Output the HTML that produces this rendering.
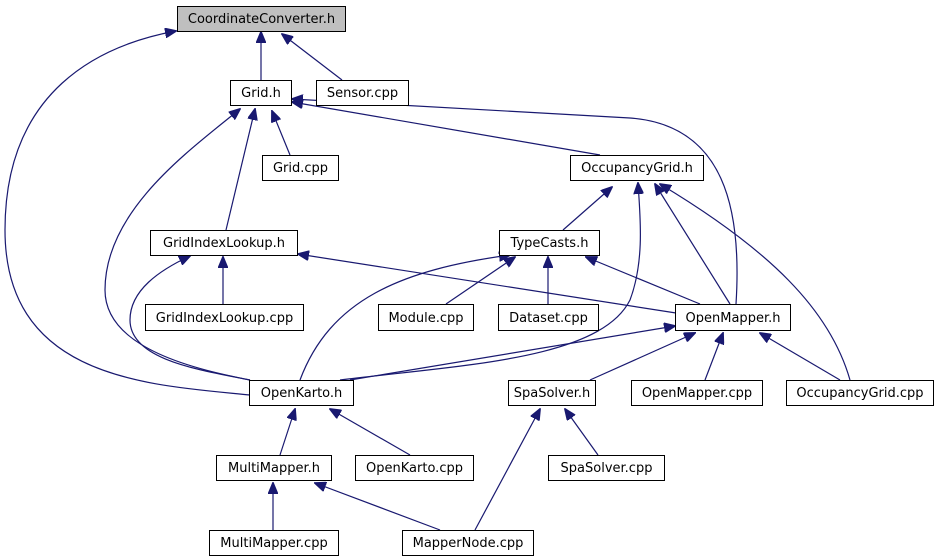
<!DOCTYPE html>
<html><head><meta charset="utf-8"><style>
html,body{margin:0;padding:0;background:#fff;}
svg{display:block;}
text{font-family:"DejaVu Sans","Liberation Sans",sans-serif;font-size:13px;fill:#000;}
</style></head><body>
<svg width="939" height="560" viewBox="0 0 939 560" xmlns="http://www.w3.org/2000/svg">
<defs>
<marker id="a" markerUnits="userSpaceOnUse" markerWidth="12" markerHeight="10" refX="11" refY="5" orient="auto">
<path d="M0,0 L12,5 L0,10 z" fill="#191970" stroke="#191970"/>
</marker>
</defs>
<g fill="none" stroke="#191970" stroke-width="1.2" marker-end="url(#a)">
<path d="M261,80 L261,32"/>
<path d="M342,80 L282,34"/>
<path d="M250,395 C150,385 5,380 5,230 C5,90 100,45 176,31"/>
<path d="M290,155 L272,111"/>
<path d="M226,230 L255,109"/>
<path d="M250,380 C200,370 105,350 105,290 C105,210 190,150 240,109"/>
<path d="M600,155 L292,102"/>
<path d="M736,304 C742,210 725,125 630,118 L292,99"/>
<path d="M563,230 L612,187"/>
<path d="M340,380 C460,365 600,360 630,300 C645,260 640,215 638,183"/>
<path d="M730,304 L655,184"/>
<path d="M850,380 C830,310 770,250 660,184"/>
<path d="M223,304 L223,257"/>
<path d="M250,380 C200,370 130,360 130,320 C130,290 160,270 190,256"/>
<path d="M676,313 L298,254"/>
<path d="M300,380 C330,300 400,270 510,255"/>
<path d="M446,304 L515,257"/>
<path d="M548,304 L548,257"/>
<path d="M700,304 L586,257"/>
<path d="M350,380 L675,326"/>
<path d="M590,380 L695,333"/>
<path d="M705,380 L723,333"/>
<path d="M840,380 L760,333"/>
<path d="M280,455 L295,409"/>
<path d="M410,455 L330,409"/>
<path d="M475,530 L540,409"/>
<path d="M598,455 L565,409"/>
<path d="M273,530 L273,483"/>
<path d="M440,530 L315,483"/>
</g>
<g stroke="#000" stroke-width="1" fill="#fff">
<rect x="177.5" y="6.5" width="168" height="25" fill="#bfbfbf"/>
<rect x="230.5" y="80.5" width="61" height="25"/>
<rect x="316.5" y="80.5" width="92" height="25"/>
<rect x="262.5" y="155.5" width="76" height="25"/>
<rect x="570.5" y="155.5" width="133" height="25"/>
<rect x="150.5" y="230.5" width="147" height="25"/>
<rect x="499.5" y="230.5" width="100" height="25"/>
<rect x="145.5" y="304.5" width="158" height="26"/>
<rect x="378.5" y="304.5" width="95" height="26"/>
<rect x="498.5" y="304.5" width="100" height="26"/>
<rect x="675.5" y="304.5" width="115" height="26"/>
<rect x="249.5" y="380.5" width="104" height="25"/>
<rect x="508.5" y="380.5" width="87" height="25"/>
<rect x="631.5" y="380.5" width="131" height="25"/>
<rect x="786.5" y="380.5" width="147" height="25"/>
<rect x="216.5" y="455.5" width="115" height="25"/>
<rect x="355.5" y="455.5" width="118" height="25"/>
<rect x="548.5" y="455.5" width="116" height="25"/>
<rect x="209.5" y="530.5" width="129" height="25"/>
<rect x="402.5" y="530.5" width="131" height="25"/>
</g>
<g text-anchor="middle">
<text x="261.5" y="23">CoordinateConverter.h</text>
<text x="261" y="97">Grid.h</text>
<text x="362.5" y="97">Sensor.cpp</text>
<text x="300.5" y="172">Grid.cpp</text>
<text x="637" y="172">OccupancyGrid.h</text>
<text x="224" y="247">GridIndexLookup.h</text>
<text x="549.5" y="247">TypeCasts.h</text>
<text x="224.5" y="322">GridIndexLookup.cpp</text>
<text x="426" y="322">Module.cpp</text>
<text x="548.5" y="322">Dataset.cpp</text>
<text x="733" y="322">OpenMapper.h</text>
<text x="301.5" y="397">OpenKarto.h</text>
<text x="552" y="397">SpaSolver.h</text>
<text x="697" y="397">OpenMapper.cpp</text>
<text x="860" y="397">OccupancyGrid.cpp</text>
<text x="274" y="472">MultiMapper.h</text>
<text x="414.5" y="472">OpenKarto.cpp</text>
<text x="606.5" y="472">SpaSolver.cpp</text>
<text x="274" y="547">MultiMapper.cpp</text>
<text x="468" y="547">MapperNode.cpp</text>
</g>
</svg>
</body></html>
